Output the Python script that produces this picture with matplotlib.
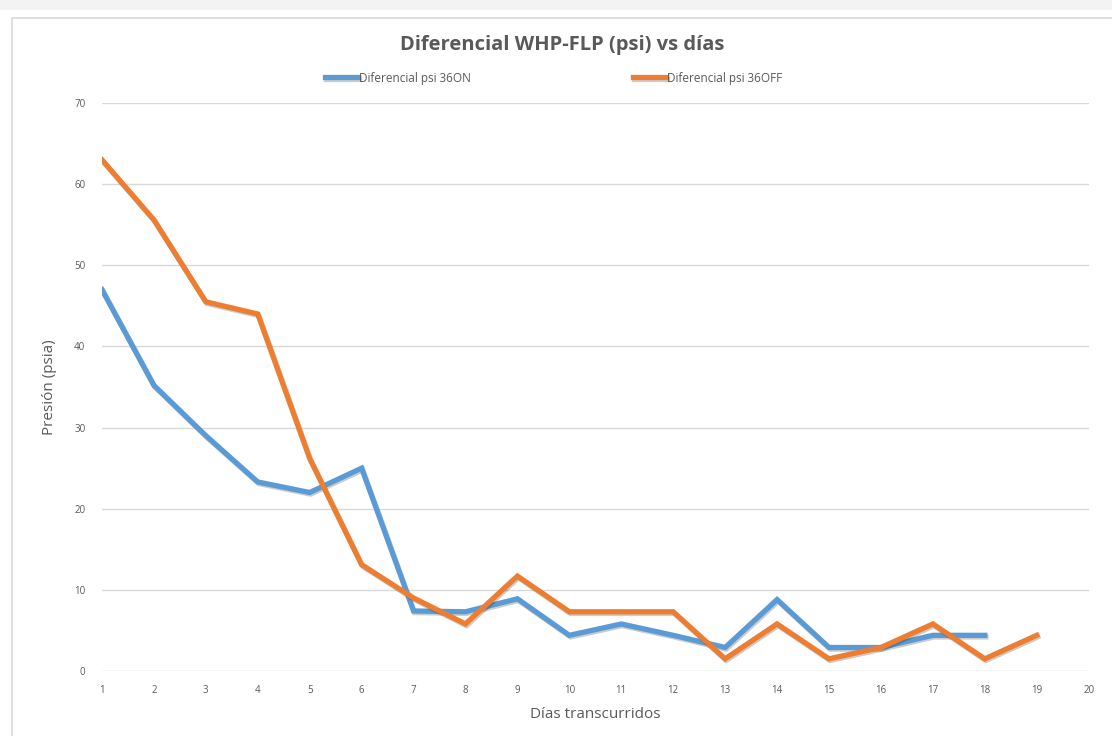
import numpy as np
import matplotlib
matplotlib.use('Agg')
import matplotlib.pyplot as plt
import matplotlib.patheffects as pe
from matplotlib.patches import Rectangle

# datos de los pozos
dias_on = [1, 2, 3, 4, 5, 6, 7, 8, 9, 10, 11, 12, 13, 14, 15, 16, 17, 18]
psi_on = [47, 35.2, 29, 23.3, 22, 25, 7.4, 7.3, 8.9, 4.4, 5.8, 4.4, 2.9, 8.8, 2.9, 2.9, 4.4, 4.4]
dias_off = [1, 2, 3, 4, 5, 6, 7, 8, 9, 10, 11, 12, 13, 14, 15, 16, 17, 18, 19]
psi_off = [63, 55.6, 45.5, 44, 26.2, 13.1, 9, 5.8, 11.7, 7.3, 7.3, 7.3, 1.5, 5.8, 1.5, 2.9, 5.8, 1.5, 4.4]
x_ticks = list(range(1, 21))
y_ticks = list(range(0, 80, 10))

AZUL = '#5B9BD5'
NARANJA = '#ED7D31'
GRIS = '#595959'

plt.rcParams['font.family'] = ['Open Sans', 'DejaVu Sans']

fig = plt.figure(figsize=(11.12, 7.36), dpi=100)
# marco del grafico
fig.patches.append(Rectangle((0, 0.986), 1, 0.014, transform=fig.transFigure,
                             facecolor='#F3F3F3', edgecolor='none', zorder=-2))
fig.patches.append(Rectangle((0.0105, -0.01), 1.0, 0.985, transform=fig.transFigure,
                             facecolor='white', edgecolor='#D9D9D9', linewidth=1.2, zorder=-1))

ax = fig.add_axes([0.0917, 0.0883, 0.8873, 0.7717])
ax.set_zorder(1)
ax.patch.set_alpha(0)
sombra = [pe.SimpleLineShadow(offset=(0.8, -1.2), alpha=0.2, shadow_color='black'), pe.Normal()]
ax.plot(dias_on, psi_on, color=AZUL, lw=3.8, label='Diferencial psi 36ON',
        path_effects=sombra, solid_joinstyle='miter')
ax.plot(dias_off, psi_off, color=NARANJA, lw=3.8, label='Diferencial psi 36OFF',
        path_effects=sombra, solid_joinstyle='miter')

ax.set_xlim(1, 20)
ax.set_ylim(0, 70)
ax.set_xticks(x_ticks)
ax.set_yticks(y_ticks)
ax.grid(axis='y', color='#D9D9D9', lw=1)
ax.set_axisbelow(True)
for s in ax.spines.values():
    s.set_visible(False)
ax.tick_params(length=0, labelsize=7, labelcolor=GRIS, pad=10)
ax.tick_params(axis='y', pad=12)

ax.set_xlabel('Días transcurridos', fontsize=11, color=GRIS, labelpad=8)
ax.set_ylabel('Presión (psia)', fontsize=11, color=GRIS, labelpad=12)

fig.text(0.506, 0.939, 'Diferencial WHP-FLP (psi) vs días', ha='center', va='center',
         fontsize=14.5, fontweight='bold', color=GRIS)

leg = fig.legend(loc='center', bbox_to_anchor=(0.498, 0.894), ncol=2, frameon=False,
                 fontsize=8.5, handlelength=2.8, handletextpad=0.1, columnspacing=13.7)
for t in leg.get_texts():
    t.set_color(GRIS)

fig.savefig('out.png', dpi=100)
